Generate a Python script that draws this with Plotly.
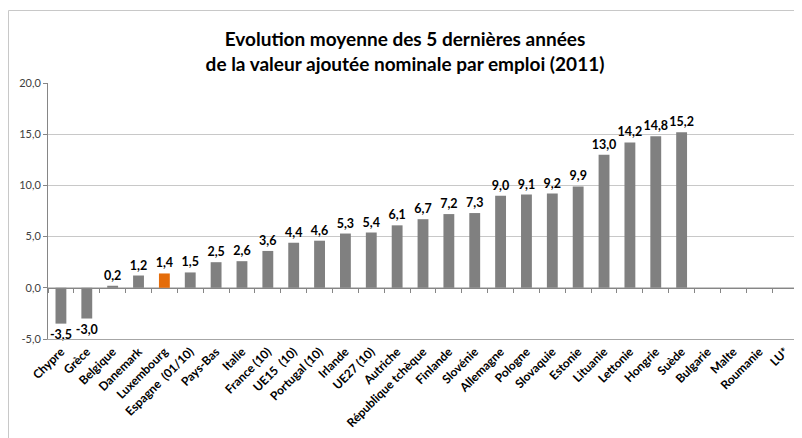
import plotly.graph_objects as go

categories = ["Chypre", "Grèce", "Belgique", "Danemark", "Luxembourg", "Espagne  (01/10)",
              "Pays-Bas", "Italie", "France (10)", "UE15  (10)", "Portugal (10)", "Irlande",
              "UE27 (10)", "Autriche", "République tchèque", "Finlande", "Slovénie", "Allemagne",
              "Pologne", "Slovaquie", "Estonie", "Lituanie", "Lettonie", "Hongrie", "Suède",
              "Bulgarie", "Malte", "Roumanie", "LU*"]
values = [-3.5, -3.0, 0.2, 1.2, 1.4, 1.5, 2.5, 2.6, 3.6, 4.4, 4.6, 5.3, 5.4, 6.1, 6.7,
          7.2, 7.3, 9.0, 9.1, 9.2, 9.9, 13.0, 14.2, 14.8, 15.2, None, None, None, None]
highlight = "Luxembourg"
y_ticks = [-5, 0, 5, 10, 15, 20]

GRAY = "#808080"
ORANGE = "#E46C0A"
colors = [ORANGE if c == highlight else GRAY for c in categories]
labels = ["" if v is None else f"{v:.1f}".replace(".", ",") for v in values]

FONT = "Lato, 'Open Sans', sans-serif"

fig = go.Figure()
fig.add_trace(go.Bar(
    x=categories, y=values, marker=dict(color=colors, line=dict(width=0)),
    text=labels, textposition="outside", cliponaxis=False, constraintext="none",
    textfont=dict(family=FONT, size=12.5, color="#000000", weight="bold"),
    showlegend=False, hoverinfo="x+y",
))
# invisible trace to drive the category axis drawn at y = 0
fig.add_trace(go.Scatter(
    x=categories, y=[0] * len(categories), xaxis="x2", mode="markers",
    marker=dict(opacity=0), showlegend=False, hoverinfo="skip",
))

n = len(categories)
OFF = 8  # page body margin
W, H = 802 - OFF, 438 - OFF
L, R, T, B = 48 - OFF, 4, 83 - OFF, 99
pw, ph = W - L - R, H - T - B

fig.update_layout(
    width=W, height=H,
    margin=dict(l=L, r=R, t=T, b=B, autoexpand=False),
    paper_bgcolor="white", plot_bgcolor="white",
    bargap=0.58,
    separators=", ",
    font=dict(family=FONT, color="#000000"),
    title=dict(
        text="<b>Evolution moyenne des 5 dernières années<br>de la valeur ajoutée nominale par emploi (2011)</b>",
        x=(405 - OFF - L) / pw, xref="paper", xanchor="center",
        y=1 - (46 - OFF) / H, yanchor="middle", automargin=False,
        font=dict(family=FONT, size=19, color="#000000"),
    ),
    xaxis=dict(
        type="category", categoryorder="array", categoryarray=categories,
        range=[-0.5, n - 0.5], automargin=False,
        showline=True, linecolor="#A6A6A6", linewidth=1,
        ticks="", showgrid=False, tickangle=-45,
        tickfont=dict(family=FONT, size=12, color="#000000", weight="bold"),
    ),
    xaxis2=dict(
        type="category", categoryorder="array", categoryarray=categories,
        overlaying="x", anchor="free", position=(0 - y_ticks[0]) / (y_ticks[-1] - y_ticks[0]),
        side="bottom", range=[-0.5, n - 0.5], automargin=False,
        showline=True, linecolor="#868686", linewidth=1,
        ticks="outside", tickson="boundaries", ticklen=4, tickcolor="#868686",
        showticklabels=False, showgrid=False,
    ),
    yaxis=dict(
        range=[y_ticks[0], y_ticks[-1]], tickvals=y_ticks, automargin=False,
        ticktext=[f"{v:.1f}".replace(".", ",") for v in y_ticks],
        showgrid=True, gridcolor="#C8C8C8", gridwidth=1,
        zeroline=False,
        showline=True, linecolor="#868686", linewidth=1,
        ticks="outside", ticklen=4, tickcolor="#868686",
        tickfont=dict(family=FONT, size=11, color="#404040"),
    ),
    shapes=[dict(
        type="rect", xref="paper", yref="paper", layer="below",
        x0=(0.5 - L) / pw, x1=(W + 10 - L) / pw,
        y0=(T + ph - (H + 10)) / ph, y1=(T + ph - 2.5) / ph,
        line=dict(color="#C8C8C8", width=1), fillcolor="rgba(0,0,0,0)",
    )],
)

fig.write_html("out.html")
